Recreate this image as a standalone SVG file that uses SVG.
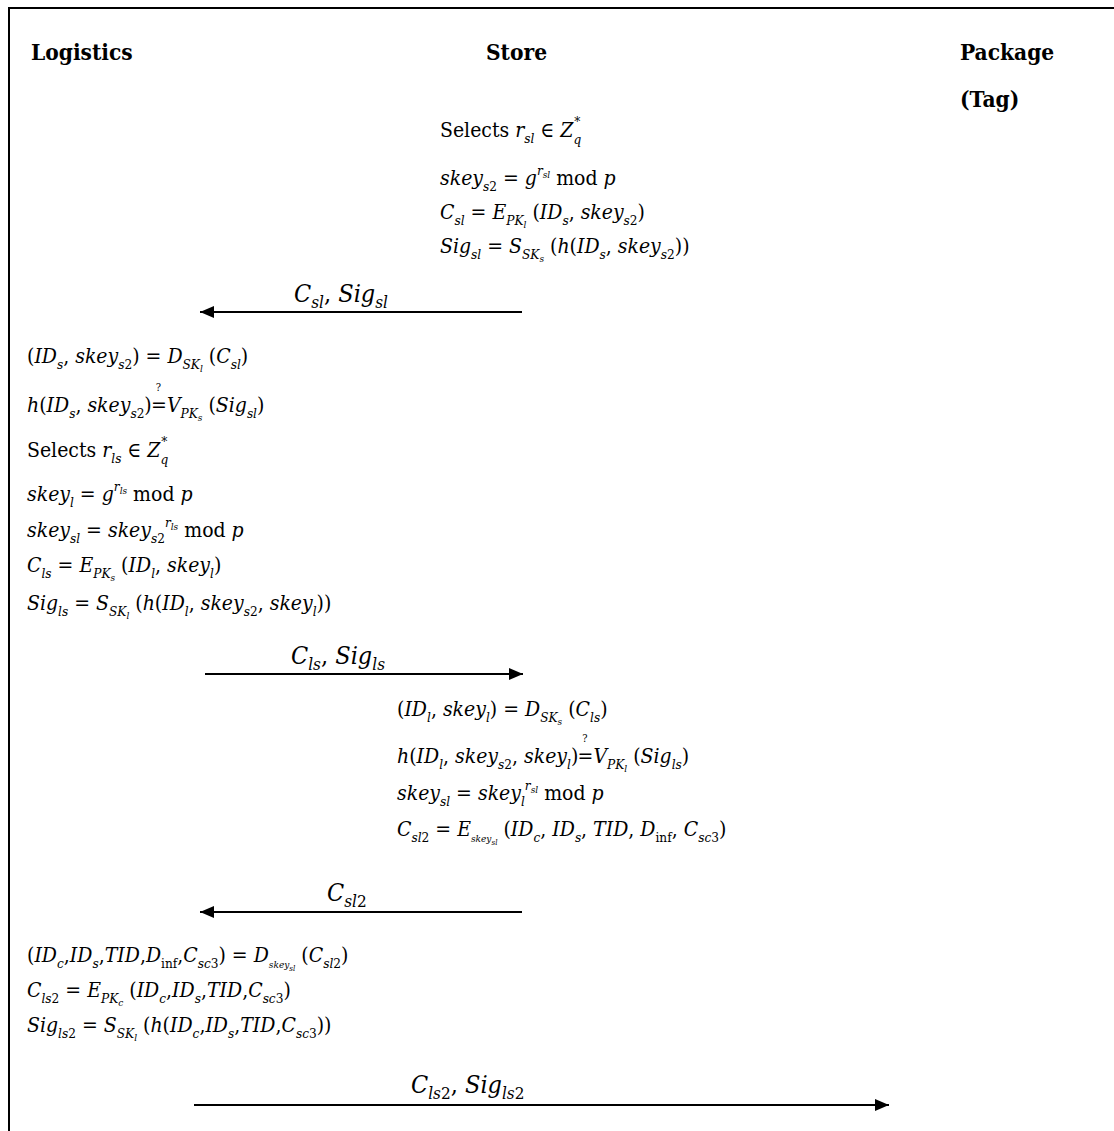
<svg xmlns="http://www.w3.org/2000/svg" width="1114" height="1131" viewBox="0 0 1114 1131">
<style>
.f{font-family:"DejaVu Serif Condensed","DejaVu Serif",serif;font-size:21px;fill:#000}
.i{font-style:italic}
.sb{font-size:13.5px}
.ss{font-size:10px}
.q{font-size:11px;font-style:normal}
.hd{font-family:"DejaVu Serif Condensed","DejaVu Serif",serif;font-weight:bold;font-size:22.5px;fill:#000}
.lb{font-size:25px}
.lsb{font-size:17px}
.ln{stroke:#000;stroke-width:2;fill:none}
</style>
<defs>
<marker id="ah" viewBox="0 0 14 12" refX="14" refY="6" markerWidth="14" markerHeight="12" markerUnits="userSpaceOnUse" orient="auto"><path d="M0,0 L14,6 L0,12 z" fill="#000"/></marker>
</defs>
<rect width="1114" height="1131" fill="#fff"/>
<path class="ln" d="M9,1131 V8 H1114"/>

<g id="hdr-logistics"><text class="hd" x="31" y="60">Logistics</text></g>
<g id="hdr-store"><text class="hd" x="486" y="60">Store</text></g>
<g id="hdr-package"><text class="hd" x="960" y="60">Package</text><text class="hd" x="960" y="107">(Tag)</text></g>

<g id="store-step1">
<text class="f" x="440" y="137">Selects <tspan class="i">r</tspan><tspan class="i sb" dy="6">sl</tspan><tspan dy="-6"> ∈ </tspan><tspan class="i">Z</tspan><tspan class="i sb" dy="7">q</tspan><tspan class="sb" dx="-7" dy="-18">*</tspan></text>
<text class="f" x="440" y="185"><tspan class="i">skey</tspan><tspan class="i sb" dy="6">s</tspan><tspan class="sb">2</tspan><tspan dy="-6"> = </tspan><tspan class="i">g</tspan><tspan class="i sb" dy="-10">r</tspan><tspan class="i ss" dy="3">sl</tspan><tspan dy="7"> mod </tspan><tspan class="i">p</tspan></text>
<text class="f" x="440" y="219"><tspan class="i">C</tspan><tspan class="i sb" dy="6">sl</tspan><tspan dy="-6"> = </tspan><tspan class="i">E</tspan><tspan class="i sb" dy="6">PK</tspan><tspan class="i ss" dy="3">l</tspan><tspan dy="-9"> (</tspan><tspan class="i">ID</tspan><tspan class="i sb" dy="6">s</tspan><tspan dy="-6">, </tspan><tspan class="i">skey</tspan><tspan class="i sb" dy="6">s</tspan><tspan class="sb">2</tspan><tspan dy="-6">)</tspan></text>
<text class="f" x="440" y="253"><tspan class="i">Sig</tspan><tspan class="i sb" dy="6">sl</tspan><tspan dy="-6"> = </tspan><tspan class="i">S</tspan><tspan class="i sb" dy="6">SK</tspan><tspan class="i ss" dy="3">s</tspan><tspan dy="-9"> (</tspan><tspan class="i">h</tspan>(<tspan class="i">ID</tspan><tspan class="i sb" dy="6">s</tspan><tspan dy="-6">, </tspan><tspan class="i">skey</tspan><tspan class="i sb" dy="6">s</tspan><tspan class="sb">2</tspan><tspan dy="-6">))</tspan></text>
</g>

<g id="logistics-step1">
<text class="f" x="27" y="363">(<tspan class="i">ID</tspan><tspan class="i sb" dy="6">s</tspan><tspan dy="-6">, </tspan><tspan class="i">skey</tspan><tspan class="i sb" dy="6">s</tspan><tspan class="sb">2</tspan><tspan dy="-6">) = </tspan><tspan class="i">D</tspan><tspan class="i sb" dy="6">SK</tspan><tspan class="i ss" dy="3">l</tspan><tspan dy="-9"> (</tspan><tspan class="i">C</tspan><tspan class="i sb" dy="6">sl</tspan><tspan dy="-6">)</tspan></text>
<text class="f" x="27" y="412"><tspan class="i">h</tspan>(<tspan class="i">ID</tspan><tspan class="i sb" dy="6">s</tspan><tspan dy="-6">, </tspan><tspan class="i">skey</tspan><tspan class="i sb" dy="6">s</tspan><tspan class="sb">2</tspan><tspan dy="-6">)</tspan><tspan class="q" dx="4" dy="-21">?</tspan><tspan dx="-10" dy="21">=</tspan><tspan class="i">V</tspan><tspan class="i sb" dy="6">PK</tspan><tspan class="i ss" dy="3">s</tspan><tspan dy="-9"> (</tspan><tspan class="i">Sig</tspan><tspan class="i sb" dy="6">sl</tspan><tspan dy="-6">)</tspan></text>
<text class="f" x="27" y="457">Selects <tspan class="i">r</tspan><tspan class="i sb" dy="6">ls</tspan><tspan dy="-6"> ∈ </tspan><tspan class="i">Z</tspan><tspan class="i sb" dy="7">q</tspan><tspan class="sb" dx="-7" dy="-18">*</tspan></text>
<text class="f" x="27" y="501"><tspan class="i">skey</tspan><tspan class="i sb" dy="6">l</tspan><tspan dy="-6"> = </tspan><tspan class="i">g</tspan><tspan class="i sb" dy="-10">r</tspan><tspan class="i ss" dy="3">ls</tspan><tspan dy="7"> mod </tspan><tspan class="i">p</tspan></text>
<text class="f" x="27" y="537"><tspan class="i">skey</tspan><tspan class="i sb" dy="6">sl</tspan><tspan dy="-6"> = </tspan><tspan class="i">skey</tspan><tspan class="i sb" dy="6">s</tspan><tspan class="sb">2</tspan><tspan class="i sb" dy="-16">r</tspan><tspan class="i ss" dy="3">ls</tspan><tspan dy="7"> mod </tspan><tspan class="i">p</tspan></text>
<text class="f" x="27" y="572"><tspan class="i">C</tspan><tspan class="i sb" dy="6">ls</tspan><tspan dy="-6"> = </tspan><tspan class="i">E</tspan><tspan class="i sb" dy="6">PK</tspan><tspan class="i ss" dy="3">s</tspan><tspan dy="-9"> (</tspan><tspan class="i">ID</tspan><tspan class="i sb" dy="6">l</tspan><tspan dy="-6">, </tspan><tspan class="i">skey</tspan><tspan class="i sb" dy="6">l</tspan><tspan dy="-6">)</tspan></text>
<text class="f" x="27" y="610"><tspan class="i">Sig</tspan><tspan class="i sb" dy="6">ls</tspan><tspan dy="-6"> = </tspan><tspan class="i">S</tspan><tspan class="i sb" dy="6">SK</tspan><tspan class="i ss" dy="3">l</tspan><tspan dy="-9"> (</tspan><tspan class="i">h</tspan>(<tspan class="i">ID</tspan><tspan class="i sb" dy="6">l</tspan><tspan dy="-6">, </tspan><tspan class="i">skey</tspan><tspan class="i sb" dy="6">s</tspan><tspan class="sb">2</tspan><tspan dy="-6">, </tspan><tspan class="i">skey</tspan><tspan class="i sb" dy="6">l</tspan><tspan dy="-6">))</tspan></text>
</g>

<g id="store-step2">
<text class="f" x="397" y="716">(<tspan class="i">ID</tspan><tspan class="i sb" dy="6">l</tspan><tspan dy="-6">, </tspan><tspan class="i">skey</tspan><tspan class="i sb" dy="6">l</tspan><tspan dy="-6">) = </tspan><tspan class="i">D</tspan><tspan class="i sb" dy="6">SK</tspan><tspan class="i ss" dy="3">s</tspan><tspan dy="-9"> (</tspan><tspan class="i">C</tspan><tspan class="i sb" dy="6">ls</tspan><tspan dy="-6">)</tspan></text>
<text class="f" x="397" y="763"><tspan class="i">h</tspan>(<tspan class="i">ID</tspan><tspan class="i sb" dy="6">l</tspan><tspan dy="-6">, </tspan><tspan class="i">skey</tspan><tspan class="i sb" dy="6">s</tspan><tspan class="sb">2</tspan><tspan dy="-6">, </tspan><tspan class="i">skey</tspan><tspan class="i sb" dy="6">l</tspan><tspan dy="-6">)</tspan><tspan class="q" dx="4" dy="-21">?</tspan><tspan dx="-10" dy="21">=</tspan><tspan class="i">V</tspan><tspan class="i sb" dy="6">PK</tspan><tspan class="i ss" dy="3">l</tspan><tspan dy="-9"> (</tspan><tspan class="i">Sig</tspan><tspan class="i sb" dy="6">ls</tspan><tspan dy="-6">)</tspan></text>
<text class="f" x="397" y="800"><tspan class="i">skey</tspan><tspan class="i sb" dy="6">sl</tspan><tspan dy="-6"> = </tspan><tspan class="i">skey</tspan><tspan class="i sb" dy="6">l</tspan><tspan class="i sb" dy="-16">r</tspan><tspan class="i ss" dy="3">sl</tspan><tspan dy="7"> mod </tspan><tspan class="i">p</tspan></text>
<text class="f" x="397" y="836"><tspan class="i">C</tspan><tspan class="i sb" dy="6">sl</tspan><tspan class="sb">2</tspan><tspan dy="-6"> = </tspan><tspan class="i">E</tspan><tspan class="i ss" dy="6">skey</tspan><tspan class="i" style="font-size:8px" dy="3">sl</tspan><tspan dy="-9"> (</tspan><tspan class="i">ID</tspan><tspan class="i sb" dy="6">c</tspan><tspan dy="-6">, </tspan><tspan class="i">ID</tspan><tspan class="i sb" dy="6">s</tspan><tspan dy="-6">, </tspan><tspan class="i">TID</tspan>, <tspan class="i">D</tspan><tspan class="sb" dy="6">inf</tspan><tspan dy="-6">, </tspan><tspan class="i">C</tspan><tspan class="i sb" dy="6">sc</tspan><tspan class="sb">3</tspan><tspan dy="-6">)</tspan></text>
</g>

<g id="logistics-step2">
<text class="f" x="27" y="962">(<tspan class="i">ID</tspan><tspan class="i sb" dy="6">c</tspan><tspan dy="-6">,</tspan><tspan class="i">ID</tspan><tspan class="i sb" dy="6">s</tspan><tspan dy="-6">,</tspan><tspan class="i">TID</tspan>,<tspan class="i">D</tspan><tspan class="sb" dy="6">inf</tspan><tspan dy="-6">,</tspan><tspan class="i">C</tspan><tspan class="i sb" dy="6">sc</tspan><tspan class="sb">3</tspan><tspan dy="-6">) = </tspan><tspan class="i">D</tspan><tspan class="i ss" dy="6">skey</tspan><tspan class="i" style="font-size:8px" dy="3">sl</tspan><tspan dy="-9"> (</tspan><tspan class="i">C</tspan><tspan class="i sb" dy="6">sl</tspan><tspan class="sb">2</tspan><tspan dy="-6">)</tspan></text>
<text class="f" x="27" y="997"><tspan class="i">C</tspan><tspan class="i sb" dy="6">ls</tspan><tspan class="sb">2</tspan><tspan dy="-6"> = </tspan><tspan class="i">E</tspan><tspan class="i sb" dy="6">PK</tspan><tspan class="i ss" dy="3">c</tspan><tspan dy="-9"> (</tspan><tspan class="i">ID</tspan><tspan class="i sb" dy="6">c</tspan><tspan dy="-6">,</tspan><tspan class="i">ID</tspan><tspan class="i sb" dy="6">s</tspan><tspan dy="-6">,</tspan><tspan class="i">TID</tspan>,<tspan class="i">C</tspan><tspan class="i sb" dy="6">sc</tspan><tspan class="sb">3</tspan><tspan dy="-6">)</tspan></text>
<text class="f" x="27" y="1032"><tspan class="i">Sig</tspan><tspan class="i sb" dy="6">ls</tspan><tspan class="sb">2</tspan><tspan dy="-6"> = </tspan><tspan class="i">S</tspan><tspan class="i sb" dy="6">SK</tspan><tspan class="i ss" dy="3">l</tspan><tspan dy="-9"> (</tspan><tspan class="i">h</tspan>(<tspan class="i">ID</tspan><tspan class="i sb" dy="6">c</tspan><tspan dy="-6">,</tspan><tspan class="i">ID</tspan><tspan class="i sb" dy="6">s</tspan><tspan dy="-6">,</tspan><tspan class="i">TID</tspan>,<tspan class="i">C</tspan><tspan class="i sb" dy="6">sc</tspan><tspan class="sb">3</tspan><tspan dy="-6">))</tspan></text>
</g>

<g id="connectors">
<line class="ln" x1="522" y1="312" x2="200" y2="312" marker-end="url(#ah)"/>
<text class="f lb" x="294" y="302"><tspan class="i">C</tspan><tspan class="i lsb" dy="6">sl</tspan><tspan dy="-6">, </tspan><tspan class="i">Sig</tspan><tspan class="i lsb" dy="6">sl</tspan></text>
<line class="ln" x1="205" y1="674" x2="523" y2="674" marker-end="url(#ah)"/>
<text class="f lb" x="291" y="664"><tspan class="i">C</tspan><tspan class="i lsb" dy="6">ls</tspan><tspan dy="-6">, </tspan><tspan class="i">Sig</tspan><tspan class="i lsb" dy="6">ls</tspan></text>
<line class="ln" x1="522" y1="912" x2="200" y2="912" marker-end="url(#ah)"/>
<text class="f lb" x="327" y="901"><tspan class="i">C</tspan><tspan class="i lsb" dy="6">sl</tspan><tspan class="lsb">2</tspan></text>
<line class="ln" x1="194" y1="1105" x2="889" y2="1105" marker-end="url(#ah)"/>
<text class="f lb" x="411" y="1093"><tspan class="i">C</tspan><tspan class="i lsb" dy="6">ls</tspan><tspan class="lsb">2</tspan><tspan dy="-6">, </tspan><tspan class="i">Sig</tspan><tspan class="i lsb" dy="6">ls</tspan><tspan class="lsb">2</tspan></text>
</g>
</svg>
